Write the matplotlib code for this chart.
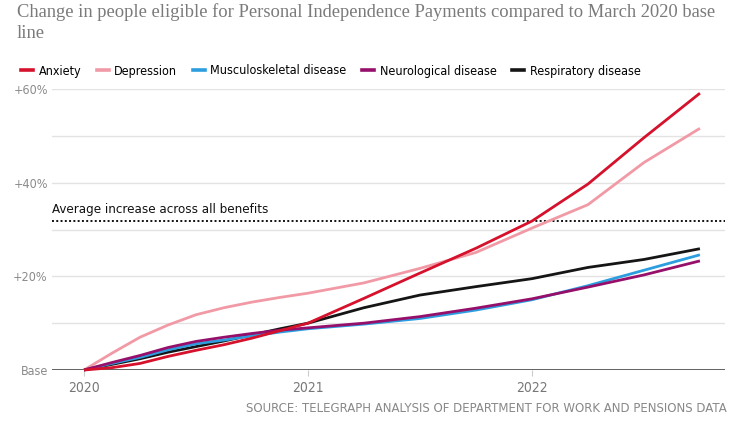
import numpy as np
import matplotlib
matplotlib.use('Agg')
import matplotlib.pyplot as plt

plt.rcParams['font.family'] = ['DejaVu Sans']
plt.rcParams['font.stretch'] = 'condensed'

# time axis (fractional years) and % change vs March 2020 base
years = [2020.0, 2020.125, 2020.25, 2020.375, 2020.5, 2020.625, 2020.75, 2020.875,
         2021.0, 2021.25, 2021.5, 2021.75, 2022.0, 2022.25, 2022.5, 2022.75]
anxiety = [0, 0.5, 1.4, 2.9, 4.2, 5.4, 6.8, 8.4, 10.0, 15.3, 20.7, 26.0, 31.8, 39.7, 49.6, 59.1]
depression = [0, 3.6, 7.0, 9.6, 11.8, 13.3, 14.5, 15.5, 16.4, 18.6, 21.7, 25.1, 30.3, 35.3, 44.3, 51.6]
musculo = [0, 1.4, 2.7, 4.3, 5.6, 6.4, 7.3, 8.1, 8.8, 9.8, 11.0, 12.8, 15.0, 18.0, 21.3, 24.6]
neuro = [0, 1.6, 3.1, 4.8, 6.1, 7.0, 7.8, 8.5, 9.0, 10.0, 11.4, 13.2, 15.2, 17.7, 20.3, 23.3]
respiratory = [0, 1.2, 2.4, 3.8, 5.0, 6.2, 7.5, 8.8, 10.0, 13.3, 16.0, 17.8, 19.5, 21.9, 23.6, 25.9]

names = ['Anxiety', 'Depression', 'Musculoskeletal disease', 'Neurological disease', 'Respiratory disease']
colors = ['#d5112c', '#f19aa6', '#2c9ee0', '#960f6a', '#151515']
avg_increase = 31.8

fig = plt.figure(figsize=(7.54, 4.25), dpi=100)
ax = fig.add_axes([52/754, 1-370/425, (725-52)/754, (370-89)/425])

# gridlines
for g in range(10, 61, 10):
    ax.axhline(g, color='#e3e3e3', lw=1, zorder=0)
ax.axhline(0, color='#555555', lw=1.3, zorder=1)

series = [anxiety, depression, musculo, neuro, respiratory]
order = [1, 4, 2, 3, 0]
for i in order:
    ax.plot(years, series[i], color=colors[i], lw=2.0, zorder=3 + (i == 0),
            solid_capstyle='butt', solid_joinstyle='round', clip_on=False, label=names[i])

ax.axhline(avg_increase, color='#111111', lw=1.4, ls=(0, (1, 1.2)), zorder=2)
ax.text(2019.857, avg_increase + 1.0, 'Average increase across all benefits',
        fontsize=9.5, color='#111111', va='bottom', ha='left')

ax.set_xlim(2019.857, 2022.862)
ax.set_ylim(0, 60)
ax.set_yticks([0, 20, 40, 60])
ax.set_yticklabels(['Base', '+20%', '+40%', '+60%'])
ax.set_xticks([2020, 2021, 2022])
ax.set_xticklabels(['2020', '2021', '2022'])
ax.tick_params(axis='y', length=0, pad=3, labelsize=9, labelcolor='#8a8a8a')
ax.tick_params(axis='x', length=4, width=0.8, color='#cccccc', pad=4,
               labelsize=10, labelcolor='#777777')
for s in ax.spines.values():
    s.set_visible(False)

fig.text(17/754, 1-3/425, 'Change in people eligible for Personal Independence Payments compared to March 2020 base\nline',
         family=['Liberation Serif', 'DejaVu Serif'], stretch='normal', fontsize=13.3, color='#7a7a7a',
         va='top', ha='left', linespacing=1.35)

handles = [plt.Line2D([], [], color=c, lw=2.6) for c in colors]
fig.legend(handles, names, loc='center left', bbox_to_anchor=(16/754, 1-71/425),
           ncol=5, frameon=False, fontsize=9.0, handlelength=0.95,
           handletextpad=0.45, columnspacing=1.25, borderaxespad=0)

fig.text(727/754, 1-409/425, 'SOURCE: TELEGRAPH ANALYSIS OF DEPARTMENT FOR WORK AND PENSIONS DATA',
         family=['DejaVu Sans'], stretch='normal', fontsize=8.5, color='#888888', ha='right', va='center')

fig.savefig('out.png', dpi=100)
